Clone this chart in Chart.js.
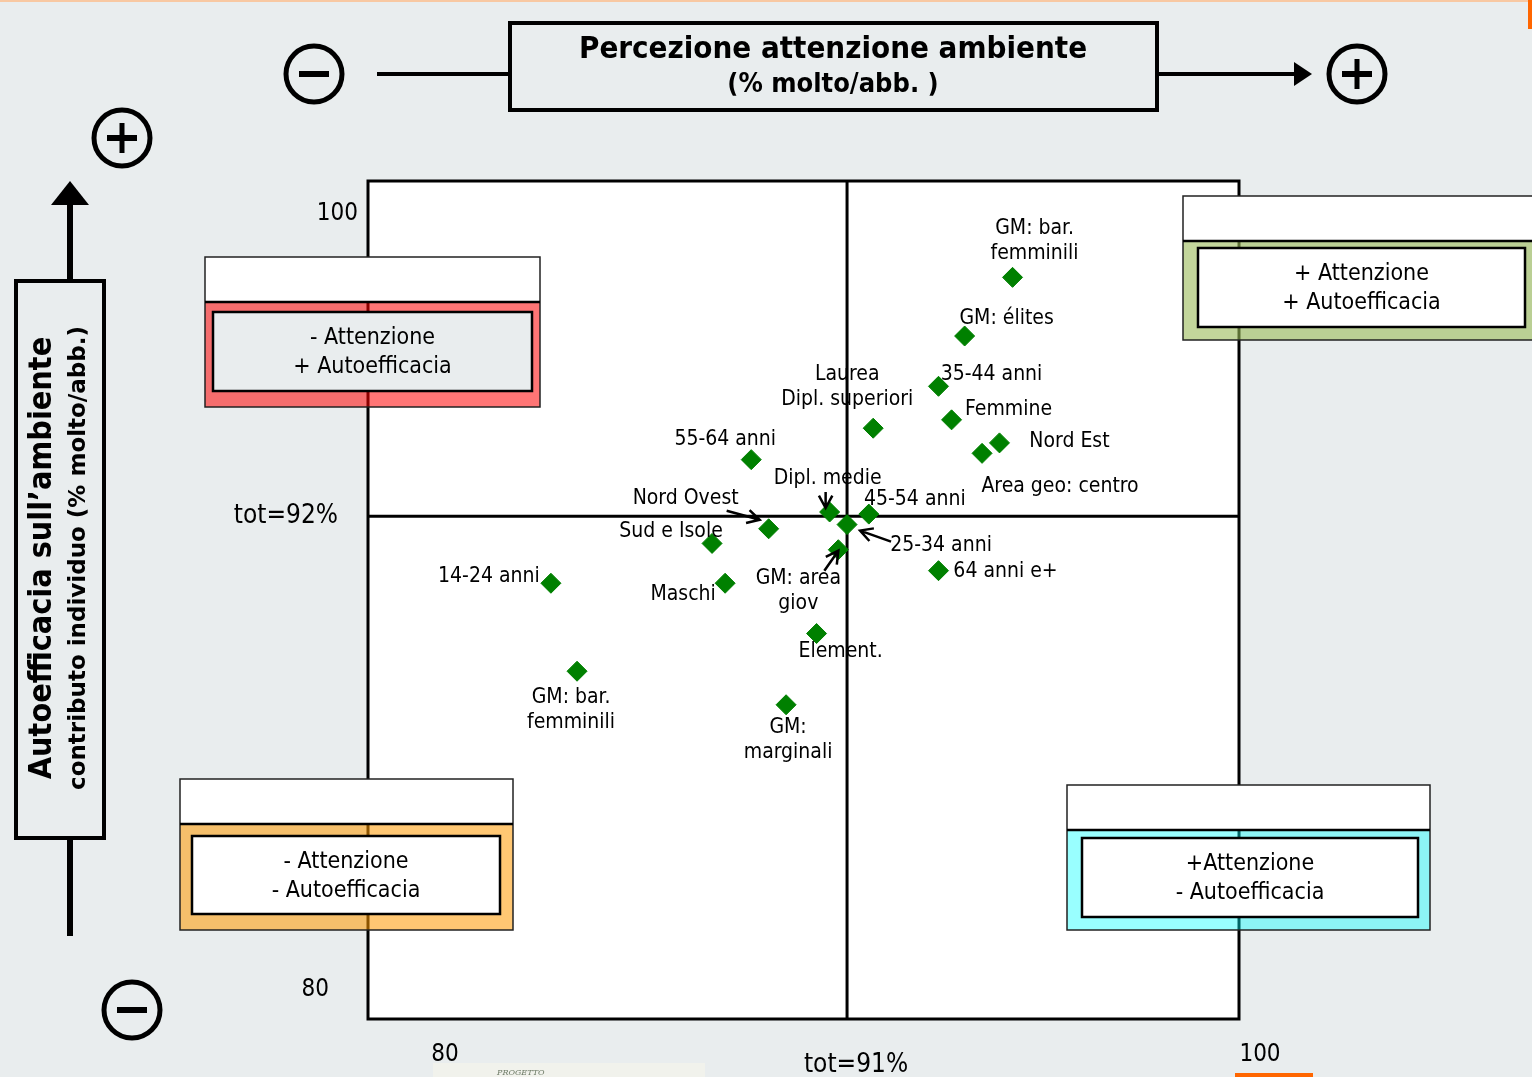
<!DOCTYPE html>
<html>
<head>
<meta charset="utf-8">
<script src="https://cdn.jsdelivr.net/npm/chart.js@4.4.1/dist/chart.umd.min.js"></script>
<style>
  html, body { margin: 0; padding: 0; background: #e9edee; }
  #wrap { width: 1532px; height: 1077px; }
</style>
</head>
<body>
<div id="wrap"><canvas id="c" width="1532" height="1077"></canvas></div>
<script>
// Segments and their scores
const categories = [
  'GM: bar.\nfemminili', 'GM: élites', '35-44 anni', 'Femmine', 'Laurea\nDipl. superiori',
  'Nord Est', 'Area geo: centro', '55-64 anni', 'Dipl. medie', '45-54 anni',
  '25-34 anni', 'Nord Ovest', 'Sud e Isole', 'GM: area\ngiov', '64 anni e+',
  '14-24 anni', 'Maschi', 'Element.', 'GM: bar.\nfemminili', 'GM:\nmarginali'
];
// Percezione attenzione ambiente (% molto/abb.)
const attenzione = [
  94.8, 93.7, 93.1, 93.4, 91.6,
  94.5, 94.1, 88.8, 90.6, 91.5,
  91.0, 89.2, 87.9, 90.8, 93.1,
  84.2, 88.2, 90.3, 84.8, 89.6
];
// Autoefficacia sull'ambiente (% molto/abb.)
const autoefficacia = [
  97.7, 96.3, 95.1, 94.3, 94.1,
  93.75, 93.5, 93.35, 92.1, 92.05,
  91.8, 91.7, 91.35, 91.2, 90.7,
  90.4, 90.4, 89.2, 88.3, 87.5
];
const axisMin = 80, axisMax = 100;
const totAttenzione = 91, totAutoefficacia = 92;
const xTickLabels = ['80', 'tot=91%', '100'];
const yTickLabels = ['100', 'tot=92%', '80'];

// Label placement around each marker: [dx, dy, align, arrow]
const labelPlacement = [
  [22, -50, 'center'], [42, -18, 'center'], [53, -13, 'center'], [57, -11, 'center'], [-26, -55, 'center'],
  [70, -2, 'center'], [78, 32, 'center'], [-26, -21, 'center'], [-2, -34, 'center', [[-4, -20], [-4, -4]]], [46, -16, 'center'],
  [94, 20, 'center', [[44, 17], [13, 6]]], [-83, -31, 'center', [[-42, -18], [-9, -9]]], [-41, -13, 'center'], [-40, 28, 'center', [[-14, 21], [0, 1]]], [67, 0, 'center'],
  [-62, -8, 'center'], [-42, 10, 'center'], [24, 17, 'center'], [-6, 25, 'center'], [2, 22, 'center']
];

const FONT = "'DejaVu Sans Condensed', 'Liberation Sans', sans-serif";
const FONT_WIDE = "'DejaVu Sans', 'Liberation Sans', sans-serif";
const BG = '#e9edee';

function circleSign(ctx, x, y, r, plus) {
  ctx.save();
  ctx.lineWidth = 5; ctx.strokeStyle = '#000';
  ctx.beginPath(); ctx.arc(x, y, r, 0, Math.PI * 2); ctx.stroke();
  ctx.lineWidth = 6; ctx.lineCap = 'butt';
  ctx.beginPath(); ctx.moveTo(x - 15, y); ctx.lineTo(x + 15, y); ctx.stroke();
  if (plus) { ctx.lineWidth = 5; ctx.beginPath(); ctx.moveTo(x, y - 15); ctx.lineTo(x, y + 15); ctx.stroke(); }
  ctx.restore();
}

function arrow(ctx, x1, y1, x2, y2, head, width) {
  const a = Math.atan2(y2 - y1, x2 - x1);
  ctx.save();
  ctx.lineWidth = width; ctx.strokeStyle = '#000';
  ctx.beginPath(); ctx.moveTo(x1, y1); ctx.lineTo(x2, y2);
  ctx.moveTo(x2 - head * Math.cos(a - 0.5), y2 - head * Math.sin(a - 0.5));
  ctx.lineTo(x2, y2);
  ctx.lineTo(x2 - head * Math.cos(a + 0.5), y2 - head * Math.sin(a + 0.5));
  ctx.stroke();
  ctx.restore();
}

// Quadrant legend box: white header strip, tinted band, framed caption
function quadrantBox(ctx, b) {
  ctx.save();
  ctx.fillStyle = '#fff';
  ctx.fillRect(b.x, b.y, b.w, 45);
  ctx.fillStyle = b.tint;
  ctx.fillRect(b.x, b.y + 45, b.w, b.h - 45);
  ctx.lineWidth = 1.5; ctx.strokeStyle = '#222';
  ctx.strokeRect(b.x, b.y, b.w, b.h);
  ctx.lineWidth = 2.5; ctx.strokeStyle = '#000';
  ctx.beginPath(); ctx.moveTo(b.x, b.y + 45); ctx.lineTo(b.x + b.w, b.y + 45); ctx.stroke();
  ctx.fillStyle = b.inner;
  ctx.fillRect(b.ix, b.iy, b.iw, b.ih);
  ctx.lineWidth = 2.5; ctx.strokeStyle = '#000';
  ctx.strokeRect(b.ix, b.iy, b.iw, b.ih);
  ctx.fillStyle = '#000';
  ctx.font = '23px ' + FONT;
  ctx.textAlign = 'center'; ctx.textBaseline = 'middle';
  const cx = b.ix + b.iw / 2, cy = b.iy + b.ih / 2;
  ctx.fillText(b.lines[0], cx, cy - 13);
  ctx.fillText(b.lines[1], cx, cy + 16);
  ctx.restore();
}

const decor = {
  id: 'decor',
  beforeDraw(chart) {
    const ctx = chart.ctx, a = chart.chartArea;
    ctx.save();
    ctx.fillStyle = BG; ctx.fillRect(0, 0, chart.width, chart.height);
    // page accents
    ctx.fillStyle = '#f8c8a2'; ctx.fillRect(0, 0, chart.width, 2);
    ctx.fillStyle = '#ff6600'; ctx.fillRect(1528, 0, 4, 29);
    ctx.fillRect(1235, 1073, 78, 4);
    ctx.fillStyle = '#f1f2ec'; ctx.fillRect(433, 1063, 272, 14);
    ctx.fillStyle = '#6d7a66'; ctx.font = 'italic 8px "DejaVu Serif", serif';
    ctx.textAlign = 'left'; ctx.textBaseline = 'middle';
    ctx.fillText('PROGETTO', 497, 1073);

    // horizontal axis banner
    ctx.lineWidth = 4; ctx.strokeStyle = '#000';
    ctx.beginPath(); ctx.moveTo(377, 74); ctx.lineTo(510, 74); ctx.moveTo(1158, 74); ctx.lineTo(1298, 74); ctx.stroke();
    ctx.fillStyle = '#000';
    ctx.beginPath(); ctx.moveTo(1312, 74); ctx.lineTo(1294, 62); ctx.lineTo(1294, 86); ctx.closePath(); ctx.fill();
    ctx.fillStyle = BG; ctx.fillRect(508, 21, 651, 91);
    ctx.lineWidth = 4; ctx.strokeRect(510, 23, 647, 87);
    ctx.fillStyle = '#000'; ctx.textAlign = 'center'; ctx.textBaseline = 'middle';
    ctx.font = 'bold 31px ' + FONT;
    ctx.fillText('Percezione attenzione ambiente', 833, 50);
    ctx.font = 'bold 27px ' + FONT;
    ctx.fillText('(% molto/abb. )', 833, 85);
    circleSign(ctx, 314, 74, 28, false);
    circleSign(ctx, 1357, 74, 28, true);

    // vertical axis banner
    ctx.lineWidth = 6;
    ctx.beginPath(); ctx.moveTo(70, 936); ctx.lineTo(70, 200); ctx.stroke();
    ctx.beginPath(); ctx.moveTo(70, 181); ctx.lineTo(51, 205); ctx.lineTo(89, 205); ctx.closePath(); ctx.fill();
    ctx.fillStyle = BG; ctx.fillRect(14, 279, 92, 561);
    ctx.lineWidth = 4; ctx.strokeRect(16, 281, 88, 557);
    ctx.save();
    ctx.translate(43, 558); ctx.rotate(-Math.PI / 2);
    ctx.fillStyle = '#000';
    ctx.font = 'bold 32px ' + FONT;
    ctx.fillText('Autoefficacia sull\u2019ambiente', 0, 0);
    ctx.font = 'bold 23px ' + FONT_WIDE;
    ctx.fillText('contributo individuo (% molto/abb.)', 0, 36);
    ctx.restore();
    circleSign(ctx, 122, 138, 28, true);
    circleSign(ctx, 132, 1010, 28, false);

    // plot area
    ctx.fillStyle = '#fff';
    ctx.fillRect(a.left, a.top, a.right - a.left, a.bottom - a.top);
    const xs = chart.scales.x, ys = chart.scales.y;
    ctx.lineWidth = 3; ctx.strokeStyle = '#000';
    ctx.beginPath();
    ctx.moveTo(xs.getPixelForValue(totAttenzione), a.top);
    ctx.lineTo(xs.getPixelForValue(totAttenzione), a.bottom);
    ctx.moveTo(a.left, ys.getPixelForValue(totAutoefficacia));
    ctx.lineTo(a.right, ys.getPixelForValue(totAutoefficacia));
    ctx.stroke();
    ctx.strokeRect(a.left, a.top, a.right - a.left, a.bottom - a.top);

    // axis value captions
    ctx.fillStyle = '#000';
    ctx.textBaseline = 'middle';
    ctx.textAlign = 'center';
    ctx.font = '24px ' + FONT;
    ctx.fillText(xTickLabels[0], xs.getPixelForValue(axisMin) + 77, 1055);
    ctx.fillText(xTickLabels[2], xs.getPixelForValue(axisMax) + 21, 1055);
    ctx.font = '26px ' + FONT;
    ctx.fillText(xTickLabels[1], xs.getPixelForValue(totAttenzione) + 9, 1065);
    ctx.textAlign = 'right';
    ctx.fillText(yTickLabels[1], a.left - 30, ys.getPixelForValue(totAutoefficacia));
    ctx.font = '24px ' + FONT;
    ctx.fillText(yTickLabels[0], a.left - 10, ys.getPixelForValue(axisMax) + 33);
    ctx.fillText(yTickLabels[2], a.left - 39, ys.getPixelForValue(axisMin) - 29);
    ctx.restore();
  },
  afterDatasetsDraw(chart) {
    const ctx = chart.ctx;
    const pts = chart.getDatasetMeta(0).data;
    ctx.save();
    ctx.fillStyle = '#000';
    ctx.font = '21px ' + FONT;
    ctx.textBaseline = 'middle';
    pts.forEach((p, i) => {
      const [dx, dy, align, arr] = labelPlacement[i];
      ctx.textAlign = align;
      categories[i].split('\n').forEach((line, k) => {
        ctx.fillText(line, p.x + dx, p.y + dy + 1 + k * 25);
      });
      if (arr) arrow(ctx, p.x + arr[0][0], p.y + arr[0][1], p.x + arr[1][0], p.y + arr[1][1], 14, 2.5);
    });
    ctx.restore();

    quadrantBox(ctx, { x: 205, y: 257, w: 335, h: 150, tint: 'rgba(255,0,0,0.54)',
      ix: 213, iy: 312, iw: 319, ih: 79, inner: BG, lines: ['- Attenzione', '+ Autoefficacia'] });
    quadrantBox(ctx, { x: 1183, y: 196, w: 360, h: 144, tint: 'rgba(155,187,89,0.6)',
      ix: 1198, iy: 248, iw: 327, ih: 79, inner: '#fff', lines: ['+ Attenzione', '+ Autoefficacia'] });
    quadrantBox(ctx, { x: 180, y: 779, w: 333, h: 151, tint: 'rgba(255,153,0,0.55)',
      ix: 192, iy: 836, iw: 308, ih: 78, inner: '#fff', lines: ['- Attenzione', '- Autoefficacia'] });
    quadrantBox(ctx, { x: 1067, y: 785, w: 363, h: 145, tint: 'rgba(0,255,255,0.4)',
      ix: 1082, iy: 838, iw: 336, ih: 79, inner: '#fff', lines: ['+Attenzione', '- Autoefficacia'] });
  }
};

new Chart(document.getElementById('c'), {
  type: 'scatter',
  data: {
    labels: categories,
    datasets: [{
      data: attenzione.map((x, i) => ({ x, y: autoefficacia[i] })),
      pointStyle: 'rectRot',
      pointRadius: 10,
      pointHoverRadius: 10,
      backgroundColor: '#008000',
      borderColor: '#008000',
      borderWidth: 1
    }]
  },
  options: {
    responsive: false,
    animation: false,
    events: [],
    layout: { padding: { left: 368, top: 181, right: 293, bottom: 58 } },
    plugins: { legend: { display: false }, tooltip: { enabled: false }, title: { display: false } },
    scales: {
      x: { type: 'linear', min: axisMin, max: axisMax, display: false },
      y: { type: 'linear', min: axisMin, max: axisMax, display: false }
    }
  },
  plugins: [decor]
});
</script>
</body>
</html>
